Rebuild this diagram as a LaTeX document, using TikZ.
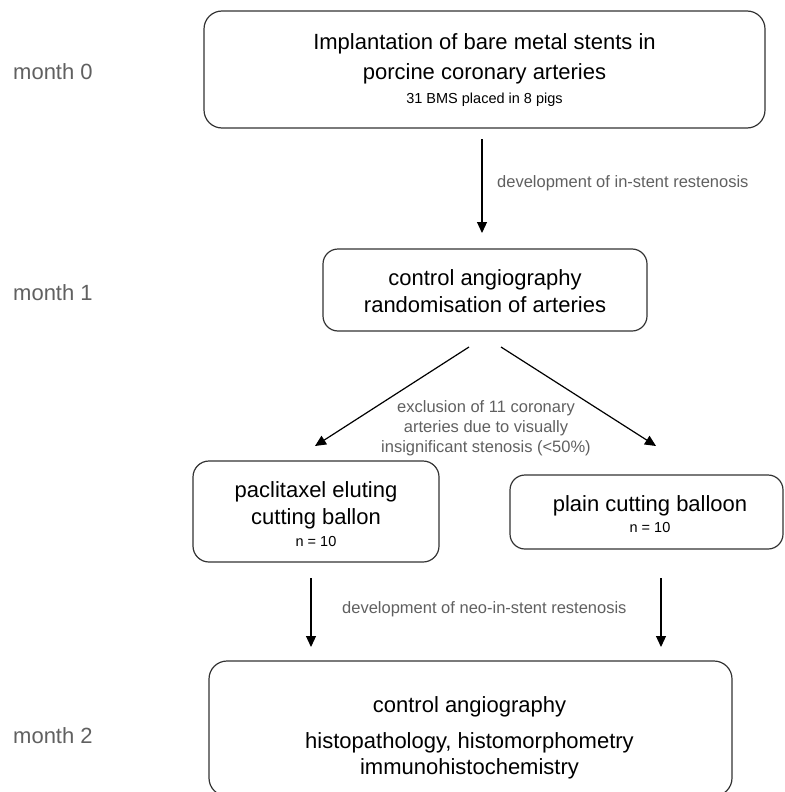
\documentclass[tikz,border=0pt]{standalone}
\usepackage{fontspec}
\setmainfont{Liberation Sans}
\usetikzlibrary{arrows.meta}
\definecolor{labgray}{HTML}{606060}
\definecolor{boxline}{HTML}{333333}
\begin{document}
\begin{tikzpicture}[x=1pt,y=-1pt,
  box/.style={draw=boxline, line width=1.2pt, rounded corners=18pt, inner sep=0pt, outer sep=0pt, anchor=north west},
  big/.style={font=\fontsize{22}{26}\selectfont, anchor=base, inner sep=0pt, text=black},
  small/.style={font=\fontsize{14.5}{17}\selectfont, anchor=base, inner sep=0pt, text=black},
  lab/.style={font=\fontsize{16.5}{20}\selectfont, text=labgray, anchor=base, inner sep=0pt},
  month/.style={font=\fontsize{22}{26}\selectfont, text=labgray, anchor=base west, inner sep=0pt},
  arr/.style={-{Triangle[width=10pt,length=11pt]}, line width=1.2pt, draw=black}]
\useasboundingbox (0,0) rectangle (784,792);

% boxes
\node[box, minimum width=561pt, minimum height=117pt] (b0) at (204,11) {};
\node[box, minimum width=324pt, minimum height=82pt, rounded corners=15pt] (b1) at (323,249) {};
\node[box, minimum width=246pt, minimum height=101pt, rounded corners=16pt] (b2) at (193,461) {};
\node[box, minimum width=273pt, minimum height=74pt, rounded corners=15pt] (b3) at (510,475) {};
\node[box, minimum width=523pt, minimum height=135pt] (b4) at (209,661) {};

% box texts
\node[big] (t0a) at (484.5,50) {Implantation of bare metal stents in};
\node[big] (t0b) at (484.5,79) {porcine coronary arteries};
\node[small] (t0c) at (484.5,103) {31 BMS placed in 8 pigs};

\node[big] (t1a) at (485,285) {control angiography};
\node[big] (t1b) at (485,312) {randomisation of arteries};

\node[big] (t2a) at (316,497) {paclitaxel eluting};
\node[big] (t2b) at (316,524) {cutting ballon};
\node[small] (t2c) at (316,546) {n = 10};

\node[big] (t3a) at (650,511) {plain cutting balloon};
\node[small] (t3b) at (650,532) {n = 10};

\node[big] (t4a) at (469.5,712) {control angiography};
\node[big] (t4b) at (469.5,748) {histopathology, histomorphometry};
\node[big] (t4c) at (469.5,774) {immunohistochemistry};

% month labels
\node[month] (m0) at (13,80) {month 0};
\node[month] (m1) at (13,300) {month 1};
\node[month] (m2) at (13,743) {month 2};

% connector labels
\node[lab, anchor=base west] (l1) at (497,187) {development of in-stent restenosis};
\node[lab] (l2a) at (486,412) {exclusion of 11 coronary};
\node[lab] (l2b) at (486,432) {arteries due to visually};
\node[lab] (l2c) at (486,452) {insignificant stenosis (<50\%)};
\node[lab, anchor=base west] (l3) at (342,613) {development of neo-in-stent restenosis};

% connector end points
\coordinate (a1s) at (482,139);
\coordinate (a1e) at (482,233);
\coordinate (a2s) at (469,347);
\coordinate (a2e) at (315,446);
\coordinate (a3s) at (501,347);
\coordinate (a3e) at (656,446);
\coordinate (a4s) at (311,578);
\coordinate (a4e) at (311,647);
\coordinate (a5s) at (661,578);
\coordinate (a5e) at (661,647);

\draw[arr] (a1s) -- (a1e);
\draw[arr] (a2s) -- (a2e);
\draw[arr] (a3s) -- (a3e);
\draw[arr] (a4s) -- (a4e);
\draw[arr] (a5s) -- (a5e);
\end{tikzpicture}
\end{document}
